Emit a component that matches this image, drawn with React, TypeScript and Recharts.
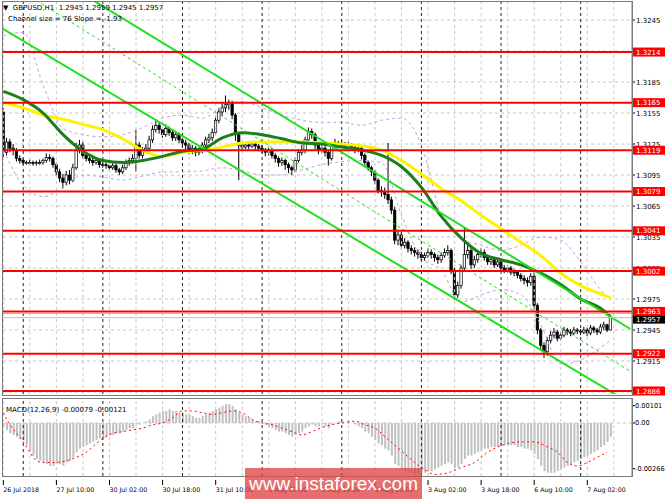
import { ComposedChart, Bar, Line, XAxis, YAxis, CartesianGrid, ReferenceLine } from 'recharts';

const FONT = '"DejaVu Sans", sans-serif';

// hourly GBPUSD bars, 26 Jul 18:00 .. 7 Aug 09:00
const firstOpen = 1.3156;
const closes = [
  1.3117, 1.3127, 1.3121, 1.3119, 1.3111, 1.3109, 1.3107, 1.3107, 1.3107, 1.3106,
  1.3107, 1.3107, 1.3109, 1.3112, 1.3111, 1.3105, 1.3098, 1.3092, 1.3088, 1.3095,
  1.3090, 1.3102, 1.3119, 1.3124, 1.3114, 1.3111, 1.3109, 1.3107, 1.3109, 1.3105,
  1.3105, 1.3104, 1.3102, 1.3104, 1.3100, 1.3098, 1.3102, 1.3107, 1.3109, 1.3111,
  1.3124, 1.3114, 1.3119, 1.3121, 1.3129, 1.3139, 1.3143, 1.3139, 1.3134, 1.3140,
  1.3136, 1.3131, 1.3134, 1.3129, 1.3126, 1.3124, 1.3119, 1.3121, 1.3117, 1.3119,
  1.3124, 1.3129, 1.3131, 1.3136, 1.3148, 1.3156, 1.3160, 1.3163, 1.3165, 1.3153,
  1.3134, 1.3124, 1.3122, 1.3124, 1.3123, 1.3125, 1.3123, 1.3121, 1.3119, 1.3117,
  1.3119, 1.3114, 1.3111, 1.3107, 1.3109, 1.3105, 1.3102, 1.3100, 1.3109, 1.3117,
  1.3119, 1.3129, 1.3137, 1.3134, 1.3124, 1.3119, 1.3121, 1.3117, 1.3111, 1.3124,
  1.3126, 1.3124, 1.3125, 1.3123, 1.3124, 1.3122, 1.3119, 1.3121, 1.3114, 1.3107,
  1.3102, 1.3098, 1.3090, 1.3080, 1.3079, 1.3076, 1.3071, 1.3061, 1.3032, 1.3037,
  1.3027, 1.3030, 1.3024, 1.3022, 1.3020, 1.3018, 1.3015, 1.3017, 1.3020, 1.3018,
  1.3015, 1.3013, 1.3017, 1.3020, 1.3022, 1.3003, 1.2979, 1.2988, 1.3005, 1.3018,
  1.3022, 1.3008, 1.3013, 1.3018, 1.3020, 1.3015, 1.3011, 1.3013, 1.3008, 1.3011,
  1.3005, 1.3003, 1.3005, 1.3001, 1.3001, 1.2998, 1.2995, 1.2993, 1.2991, 1.2997,
  1.2969, 1.2945, 1.2930, 1.2924, 1.2935, 1.2940, 1.2943, 1.2937, 1.2940, 1.2945,
  1.2943, 1.2942, 1.2945, 1.2944, 1.2943, 1.2945, 1.2942, 1.2947, 1.2945, 1.2943,
  1.2948, 1.2950, 1.2945, 1.2957,
];
const highs = [
  1.3160, 1.3131, 1.3130, 1.3125, 1.3121, 1.3114, 1.3111, 1.3109, 1.3110, 1.3109,
  1.3109, 1.3110, 1.3111, 1.3116, 1.3115, 1.3113, 1.3107, 1.3101, 1.3096, 1.3099,
  1.3100, 1.3106, 1.3126, 1.3129, 1.3127, 1.3117, 1.3114, 1.3112, 1.3112, 1.3111,
  1.3108, 1.3107, 1.3106, 1.3107, 1.3106, 1.3102, 1.3105, 1.3110, 1.3112, 1.3115,
  1.3139, 1.3127, 1.3122, 1.3125, 1.3133, 1.3143, 1.3149, 1.3146, 1.3141, 1.3144,
  1.3142, 1.3138, 1.3137, 1.3136, 1.3131, 1.3129, 1.3126, 1.3124, 1.3123, 1.3122,
  1.3127, 1.3132, 1.3135, 1.3140, 1.3152, 1.3160, 1.3165, 1.3172, 1.3168, 1.3167,
  1.3155, 1.3136, 1.3127, 1.3127, 1.3126, 1.3128, 1.3127, 1.3125, 1.3124, 1.3121,
  1.3122, 1.3121, 1.3116, 1.3113, 1.3112, 1.3111, 1.3107, 1.3104, 1.3112, 1.3120,
  1.3124, 1.3132, 1.3141, 1.3140, 1.3136, 1.3126, 1.3125, 1.3123, 1.3119, 1.3127,
  1.3130, 1.3128, 1.3128, 1.3127, 1.3127, 1.3126, 1.3124, 1.3124, 1.3123, 1.3116,
  1.3109, 1.3104, 1.3100, 1.3092, 1.3084, 1.3083, 1.3126, 1.3074, 1.3064, 1.3042,
  1.3040, 1.3034, 1.3032, 1.3027, 1.3025, 1.3023, 1.3021, 1.3020, 1.3024, 1.3023,
  1.3020, 1.3018, 1.3020, 1.3024, 1.3027, 1.3024, 1.3005, 1.2992, 1.3008, 1.3044,
  1.3028, 1.3025, 1.3017, 1.3022, 1.3024, 1.3023, 1.3018, 1.3016, 1.3015, 1.3014,
  1.3013, 1.3008, 1.3008, 1.3007, 1.3004, 1.3003, 1.3000, 1.2998, 1.2996, 1.3000,
  1.3001, 1.2971, 1.2947, 1.2933, 1.2938, 1.2944, 1.2947, 1.2945, 1.2943, 1.2948,
  1.2947, 1.2946, 1.2948, 1.2947, 1.2946, 1.2948, 1.2947, 1.2950, 1.2949, 1.2947,
  1.2951, 1.2953, 1.2951, 1.2959,
];
const lows = [
  1.3112, 1.3114, 1.3117, 1.3114, 1.3108, 1.3106, 1.3105, 1.3105, 1.3105, 1.3104,
  1.3104, 1.3105, 1.3105, 1.3107, 1.3108, 1.3102, 1.3094, 1.3088, 1.3082, 1.3085,
  1.3086, 1.3088, 1.3100, 1.3116, 1.3111, 1.3108, 1.3106, 1.3104, 1.3105, 1.3102,
  1.3102, 1.3101, 1.3099, 1.3100, 1.3097, 1.3095, 1.3096, 1.3100, 1.3104, 1.3106,
  1.3098, 1.3111, 1.3111, 1.3116, 1.3118, 1.3126, 1.3136, 1.3135, 1.3131, 1.3132,
  1.3133, 1.3128, 1.3128, 1.3126, 1.3122, 1.3120, 1.3115, 1.3115, 1.3113, 1.3114,
  1.3116, 1.3121, 1.3126, 1.3128, 1.3134, 1.3145, 1.3152, 1.3156, 1.3158, 1.3149,
  1.3128, 1.3090, 1.3119, 1.3120, 1.3120, 1.3121, 1.3119, 1.3118, 1.3116, 1.3113,
  1.3114, 1.3111, 1.3107, 1.3103, 1.3104, 1.3100, 1.3097, 1.3095, 1.3098, 1.3107,
  1.3114, 1.3116, 1.3127, 1.3130, 1.3120, 1.3115, 1.3116, 1.3113, 1.3104, 1.3109,
  1.3121, 1.3121, 1.3121, 1.3120, 1.3120, 1.3119, 1.3116, 1.3117, 1.3110, 1.3104,
  1.3099, 1.3094, 1.3086, 1.3077, 1.3074, 1.3072, 1.3067, 1.3057, 1.3028, 1.3027,
  1.3023, 1.3024, 1.3020, 1.3018, 1.3016, 1.3014, 1.3012, 1.3012, 1.3015, 1.3014,
  1.3011, 1.3009, 1.3010, 1.3015, 1.3017, 1.2999, 1.2974, 1.2976, 1.2985, 1.3003,
  1.3014, 1.3004, 1.3005, 1.3010, 1.3015, 1.3012, 1.3008, 1.3008, 1.3005, 1.3006,
  1.3002, 1.3000, 1.3000, 1.2998, 1.2997, 1.2995, 1.2992, 1.2989, 1.2987, 1.2988,
  1.2965, 1.2941, 1.2925, 1.2918, 1.2920, 1.2932, 1.2937, 1.2934, 1.2935, 1.2938,
  1.2940, 1.2939, 1.2940, 1.2941, 1.2940, 1.2941, 1.2939, 1.2940, 1.2942, 1.2940,
  1.2941, 1.2945, 1.2943, 1.2945,
];

// indicator lines, read at sample bars: [bar, value]
const greenMA: [number, number][] = [
  [0, 1.3176], [6, 1.3168], [12, 1.3155], [18, 1.3134], [24, 1.3118], [30, 1.3109], [36, 1.3107],
  [42, 1.3109], [48, 1.3113], [54, 1.3118], [60, 1.3120], [66, 1.3131], [72, 1.3136], [78, 1.3134],
  [84, 1.3130], [90, 1.3126], [96, 1.3125], [102, 1.3122], [108, 1.3119], [114, 1.3114], [120, 1.3103],
  [126, 1.3083], [132, 1.3055], [138, 1.3034], [144, 1.3019], [150, 1.3013], [156, 1.3008],
  [162, 1.3000], [168, 1.2989], [174, 1.2975], [180, 1.2966], [183, 1.2958],
];
const yellowMA: [number, number][] = [
  [0, 1.3165], [6, 1.3160], [12, 1.3153], [18, 1.3149], [24, 1.3144], [30, 1.3139], [36, 1.3130],
  [42, 1.3119], [48, 1.3113], [54, 1.3117], [60, 1.3119], [66, 1.3122], [72, 1.3126], [78, 1.3127],
  [84, 1.3127], [90, 1.3127], [96, 1.3126], [102, 1.3125], [108, 1.3123], [114, 1.3119], [120, 1.3109],
  [126, 1.3096], [132, 1.3082], [138, 1.3070], [144, 1.3056], [150, 1.3043], [156, 1.3030],
  [162, 1.3017], [168, 1.3000], [174, 1.2988], [180, 1.2980], [183, 1.2976],
];
const bandUp: [number, number][] = [
  [0, 1.3230], [6, 1.3233], [12, 1.3182], [18, 1.3140], [24, 1.3134], [30, 1.3132], [36, 1.3134],
  [42, 1.3141], [48, 1.3150], [54, 1.3153], [60, 1.3150], [66, 1.3161], [72, 1.3166], [78, 1.3160],
  [84, 1.3153], [90, 1.3148], [96, 1.3146], [102, 1.3146], [108, 1.3143], [114, 1.3148], [120, 1.3150],
  [126, 1.3124], [132, 1.3056], [138, 1.3034], [144, 1.3027], [150, 1.3022], [156, 1.3027],
  [162, 1.3035], [168, 1.3032], [174, 1.3011], [180, 1.2984], [183, 1.2974],
];
const bandLow: [number, number][] = [
  [0, 1.3119], [6, 1.3085], [12, 1.3074], [18, 1.3083], [24, 1.3095], [30, 1.3093], [36, 1.3090],
  [42, 1.3094], [48, 1.3098], [54, 1.3098], [60, 1.3099], [66, 1.3102], [72, 1.3099], [78, 1.3095],
  [84, 1.3095], [90, 1.3100], [96, 1.3105], [102, 1.3108], [108, 1.3109], [114, 1.3107], [120, 1.3056],
  [126, 1.3015], [132, 1.3003], [138, 1.2972], [144, 1.2979], [150, 1.2984], [156, 1.2979],
  [162, 1.2950], [168, 1.2912], [174, 1.2916], [180, 1.2928], [183, 1.2935],
];

const macdHist = [
  -0.0002, -0.0004, -0.0006, -0.0007, -0.0008, -0.0009, -0.0010, -0.0013, -0.0016, -0.0019,
  -0.0021, -0.0022, -0.0023, -0.0024, -0.0025, -0.0025, -0.0024, -0.0024, -0.0025, -0.0023,
  -0.0022, -0.0020, -0.0017, -0.0015, -0.0014, -0.0013, -0.0012, -0.0011, -0.0010, -0.0009,
  -0.0009, -0.0008, -0.0007, -0.0007, -0.0006, -0.0006, -0.0005, -0.0004, -0.0003, -0.0003,
  -0.0001, -0.0001, 0.0000, 0.0001, 0.0002, 0.0004, 0.0005, 0.0006, 0.0007, 0.0007,
  0.0008, 0.0007, 0.0007, 0.0006, 0.0006, 0.0005, 0.0005, 0.0004, 0.0003, 0.0003,
  0.0004, 0.0005, 0.0006, 0.0007, 0.0008, 0.0009, 0.0010, 0.0011, 0.0011, 0.0010,
  0.0008, 0.0006, 0.0005, 0.0004, 0.0003, 0.0002, 0.0001, 0.0001, 0.0000, -0.0001,
  -0.0002, -0.0003, -0.0004, -0.0005, -0.0005, -0.0006, -0.0007, -0.0008, -0.0007, -0.0006,
  -0.0005, -0.0003, -0.0002, -0.0001, -0.0002, -0.0002, -0.0001, -0.0002, -0.0003, -0.0001,
  0.0000, 0.0001, 0.0001, 0.0000, 0.0001, 0.0000, -0.0001, -0.0002, -0.0003, -0.0005,
  -0.0006, -0.0008, -0.0010, -0.0012, -0.0013, -0.0015, -0.0016, -0.0019, -0.0024, -0.0025,
  -0.0027, -0.0028, -0.0029, -0.0029, -0.0030, -0.0030, -0.0029, -0.0029, -0.0028, -0.0028,
  -0.0027, -0.0026, -0.0025, -0.0024, -0.0023, -0.0024, -0.0026, -0.0026, -0.0024, -0.0021,
  -0.0019, -0.0019, -0.0018, -0.0017, -0.0016, -0.0015, -0.0015, -0.0014, -0.0014, -0.0014,
  -0.0013, -0.0013, -0.0013, -0.0013, -0.0013, -0.0014, -0.0014, -0.0015, -0.0015, -0.0016,
  -0.0018, -0.0021, -0.0025, -0.0028, -0.0029, -0.0029, -0.0029, -0.0028, -0.0027, -0.0026,
  -0.0025, -0.0024, -0.0023, -0.0022, -0.0021, -0.0020, -0.0019, -0.0018, -0.0017, -0.0016,
  -0.0014, -0.0013, -0.0011, -0.0008,
];
const signalPts: [number, number][] = [
  [0, 0.0006], [2, -0.0001], [4, -0.0006], [6, -0.0011], [8, -0.0017], [10, -0.0022], [12, -0.0023],
  [15, -0.0023], [19, -0.0022], [22, -0.0020], [25, -0.0017], [28, -0.0012], [30, -0.0009],
  [33, -0.0006], [36, -0.0005], [39, -0.0004], [42, -0.0003], [45, -0.0001], [48, 0.0000],
  [51, 0.0003], [54, 0.0007], [57, 0.0007], [60, 0.0006], [63, 0.0005], [66, 0.0006], [69, 0.0007],
  [72, 0.0006], [75, 0.0002], [78, 0.0000], [81, -0.0001], [84, -0.0003], [87, -0.0005],
  [90, -0.0007], [93, -0.0005], [97, -0.0002], [102, 0.0000], [106, 0.0001], [109, -0.0001],
  [112, -0.0003], [115, -0.0008], [118, -0.0013], [121, -0.0018], [124, -0.0023], [127, -0.0027],
  [130, -0.0030], [134, -0.0029], [138, -0.0026], [142, -0.0023], [146, -0.0017], [149, -0.0014],
  [152, -0.0012], [156, -0.0011], [160, -0.0011], [164, -0.0014], [167, -0.0017], [170, -0.0023],
  [173, -0.0025], [176, -0.0023], [179, -0.0020], [182, -0.0017],
];

const levels = [1.3214, 1.3165, 1.3119, 1.3079, 1.3041, 1.3002, 1.2963, 1.2922, 1.2886];
const lastPrice = 1.2957;
const priceTicks = [1.2885, 1.2915, 1.2945, 1.2975, 1.3005, 1.3035, 1.3065, 1.3095, 1.3125, 1.3155, 1.3185, 1.3215, 1.3245];
const macdTicks = [0.00101, 0, -0.00266];
const timeTicks = [0, 16, 32, 48, 64, 80, 96, 112, 128, 144, 160, 176];
const timeLabels = ['26 Jul 2018', '27 Jul 10:00', '30 Jul 02:00', '30 Jul 18:00', '31 Jul 10:00', '1 Aug 02:00',
  '1 Aug 18:00', '2 Aug 10:00', '3 Aug 02:00', '3 Aug 18:00', '6 Aug 10:00', '7 Aug 02:00'];
const gridBars = [0, 8, 16, 24, 32, 40, 48, 56, 64, 72, 80, 88, 96, 104, 112, 120, 128, 136, 144, 152, 160, 168, 176, 184];
const dayBars = [6, 30, 54, 78, 102, 126, 150, 174];

// regression channel (bar, price)
const chanUp = [{ x: 27.1, y: 1.3264 }, { x: 189, y: 1.2946 }];
const chanMid = [{ x: 9.9, y: 1.3264 }, { x: 189, y: 1.2905 }];
const chanLow = [{ x: -0.9, y: 1.3238 }, { x: 189, y: 1.2874 }];

const X_DOMAIN: [number, number] = [-0.1, 189.47];
const P_DOMAIN: [number, number] = [1.288308, 1.326242];

const rows: Record<string, any>[] = closes.map((c, i) => ({
  i,
  o: i === 0 ? firstOpen : closes[i - 1],
  c,
  h: highs[i],
  l: lows[i],
  range: [lows[i], highs[i]],
}));
const put = (pts: [number, number][], key: string, target: Record<string, any>[]) =>
  pts.forEach(([i, v]) => { target[i][key] = v; });
put(greenMA, 'green', rows);
put(yellowMA, 'yellow', rows);
put(bandUp, 'bbu', rows);
put(bandLow, 'bbl', rows);

const macdRows: Record<string, any>[] = macdHist.map((v, i) => ({ i, hist: v }));
put(signalPts, 'sig', macdRows);

function Candle(props: any) {
  const { x, y, width, height, payload } = props;
  if (x == null || y == null || !payload) return null;
  const top = Math.min(y, y + height);
  const bot = Math.max(y, y + height);
  const { o, c, h, l } = payload;
  const span = h - l || 1e-9;
  const py = (p: number) => top + ((h - p) / span) * (bot - top);
  const cx = x + width / 2;
  const yT = py(Math.max(o, c));
  const yB = py(Math.min(o, c));
  return (
    <g>
      <line x1={cx} x2={cx} y1={top} y2={bot} stroke="#000" strokeWidth={1} />
      <rect x={cx - 1.2} y={yT} width={2.4} height={Math.max(yB - yT, 0.8)}
        fill={c >= o ? '#fff' : '#000'} stroke="#000" strokeWidth={0.7} />
    </g>
  );
}

// price scale: plain ticks first, then the bid tag, then the level tags on top
const axisTicks = [...priceTicks, lastPrice, ...levels];

function PriceTick(props: any) {
  const { x, y, payload } = props;
  const v = payload.value as number;
  if (levels.includes(v)) {
    return (
      <g>
        <rect x={x + 1} y={y - 4.5} width={33} height={9} fill="#FF0000" />
        <text x={x + 4} y={y + 2.6} fill="#fff" fontSize={7} fontFamily={FONT}>{v.toFixed(4)}</text>
      </g>
    );
  }
  if (v === lastPrice) {
    return (
      <g>
        <rect x={x + 1} y={y - 3} width={33} height={9} fill="#000" />
        <text x={x + 4} y={y + 4} fill="#fff" fontSize={7} fontFamily={FONT}>{v.toFixed(4)}</text>
      </g>
    );
  }
  return (
    <g>
      <line x1={x} x2={x + 3} y1={y} y2={y} stroke="#000" />
      <text x={x + 4} y={y + 2.6} fill="#000" fontSize={7} fontFamily={FONT}>{v.toFixed(4)}</text>
    </g>
  );
}

function TimeTick(props: any) {
  const { x, y, payload } = props;
  const idx = timeTicks.indexOf(payload.value);
  return (
    <g>
      <line x1={x} x2={x} y1={y + 4} y2={y + 9} stroke="#000" />
      <text x={x} y={y + 16} fontSize={6.3} fontFamily={FONT} fill="#000" textAnchor="start">{timeLabels[idx]}</text>
    </g>
  );
}

const vGrid = (prefix: string, axis: string) => [
  ...gridBars.map(b => (
    <ReferenceLine key={`${prefix}g${b}`} yAxisId={axis} x={b} stroke="#C8C8C8" strokeDasharray="3 3" ifOverflow="hidden" />
  )),
  ...dayBars.map(b => (
    <ReferenceLine key={`${prefix}d${b}`} yAxisId={axis} x={b} stroke="#222" strokeDasharray="3 3" ifOverflow="hidden" />
  )),
];

export default function App() {
  return (
    <div style={{ position: 'absolute', left: 0, top: 0, width: 665, height: 499, background: '#fff', overflow: 'hidden', fontFamily: FONT }}>
      <div style={{ position: 'absolute', left: 0, top: 0 }}>
        <ComposedChart width={665} height={396} data={rows} margin={{ top: 2, right: 0, left: 3, bottom: 2 }}>
          <CartesianGrid yAxisId="p" vertical={false} stroke="#C8C8C8" strokeDasharray="3 3" horizontalValues={priceTicks} />
          <XAxis dataKey="i" type="number" domain={X_DOMAIN} hide allowDataOverflow />
          <YAxis yAxisId="p" orientation="right" width={33} domain={P_DOMAIN} ticks={axisTicks} allowDataOverflow interval={0}
            tick={<PriceTick />} tickSize={0} tickMargin={0} tickLine={false} axisLine={{ stroke: '#7a7a7a' }} />
          {vGrid('m', 'p')}
          <Line yAxisId="p" dataKey="bbu" type="monotone" connectNulls dot={false} stroke="#C89BEA" strokeWidth={1} strokeDasharray="3 3" isAnimationActive={false} />
          <Line yAxisId="p" dataKey="bbl" type="monotone" connectNulls dot={false} stroke="#C89BEA" strokeWidth={1} strokeDasharray="3 3" isAnimationActive={false} />
          <Bar yAxisId="p" dataKey="range" barSize={3} isAnimationActive={false} shape={(p: any) => <Candle {...p} />} />
          <Line yAxisId="p" dataKey="yellow" type="monotone" connectNulls dot={false} stroke="#FFF200" strokeWidth={3} isAnimationActive={false} />
          <Line yAxisId="p" dataKey="green" type="monotone" connectNulls dot={false} stroke="#1B7F1B" strokeWidth={3} isAnimationActive={false} />
          <ReferenceLine yAxisId="p" segment={chanUp} stroke="#1EE01E" strokeWidth={2} ifOverflow="hidden" />
          <ReferenceLine yAxisId="p" segment={chanLow} stroke="#1EE01E" strokeWidth={2} ifOverflow="hidden" />
          <ReferenceLine yAxisId="p" segment={chanMid} stroke="#1EE01E" strokeWidth={1} strokeDasharray="3 3" ifOverflow="hidden" />
          <ReferenceLine yAxisId="p" y={1.2961} stroke="#FF9A9A" strokeWidth={1} />
          <ReferenceLine yAxisId="p" y={lastPrice} stroke="#C0C0C0" strokeWidth={1} />
          {levels.map(lv => (
            <ReferenceLine key={lv} yAxisId="p" y={lv} stroke="#FF0000" strokeWidth={2} />
          ))}
        </ComposedChart>
      </div>
      <div style={{ position: 'absolute', left: 0, top: 396 }}>
        <ComposedChart width={665} height={103} data={macdRows} margin={{ top: 3, right: 0, left: 3, bottom: 0 }}>
          <XAxis dataKey="i" type="number" domain={X_DOMAIN} allowDataOverflow ticks={timeTicks} interval={0}
            height={23} axisLine={false} tickLine={false} tickSize={0} tickMargin={0} tick={<TimeTick />} />
          <YAxis yAxisId="m" orientation="right" width={33} domain={[-0.003088, 0.001398]} ticks={macdTicks} allowDataOverflow interval={0}
            tickFormatter={(v: number) => (v === 0 ? '0.00' : v.toFixed(5))} tick={{ fontSize: 6.6, fill: '#000', fontFamily: FONT }}
            tickSize={3} tickMargin={0} tickLine={{ stroke: '#000' }} axisLine={{ stroke: '#7a7a7a' }} />
          {vGrid('s', 'm')}
          <ReferenceLine yAxisId="m" y={0} stroke="#C8C8C8" strokeDasharray="3 3" />
          <Bar yAxisId="m" dataKey="hist" barSize={2} fill="#C0C0C0" isAnimationActive={false} />
          <Line yAxisId="m" dataKey="sig" type="monotone" connectNulls dot={false} stroke="#FF0000" strokeWidth={1} strokeDasharray="2 3" isAnimationActive={false} />
        </ComposedChart>
      </div>

      <div style={{ position: 'absolute', left: 2, top: 1, width: 631, height: 395, boxSizing: 'border-box', border: '1px solid #7a7a7a', pointerEvents: 'none' }} />
      <div style={{ position: 'absolute', left: 2, top: 398, width: 631, height: 79, boxSizing: 'border-box', border: '1px solid #7a7a7a', pointerEvents: 'none' }} />

      <div style={{ position: 'absolute', left: 3, top: 3, fontSize: 7, color: '#000', whiteSpace: 'pre', lineHeight: '10px' }}>
        {'▼  GBPUSD,H1  1.2945 1.2959 1.2945 1.2957'}
      </div>
      <div style={{ position: 'absolute', left: 8, top: 14, fontSize: 7, color: '#000', whiteSpace: 'pre', lineHeight: '10px' }}>
        {'Channel size = 76 Slope = -1.93'}
      </div>
      <div style={{ position: 'absolute', left: 6, top: 405, fontSize: 7, color: '#000', whiteSpace: 'pre', lineHeight: '10px' }}>
        {'MACD(12,26,9) -0.00079 -0,00121'}
      </div>

      <div style={{ position: 'absolute', left: 245, top: 468, width: 177, height: 31, background: 'rgba(222,70,70,0.78)',
        color: '#fff', fontFamily: '"Liberation Sans", Arial, sans-serif', fontSize: 19, lineHeight: '31px', textAlign: 'center' }}>
        www.instaforex.com
      </div>
    </div>
  );
}
